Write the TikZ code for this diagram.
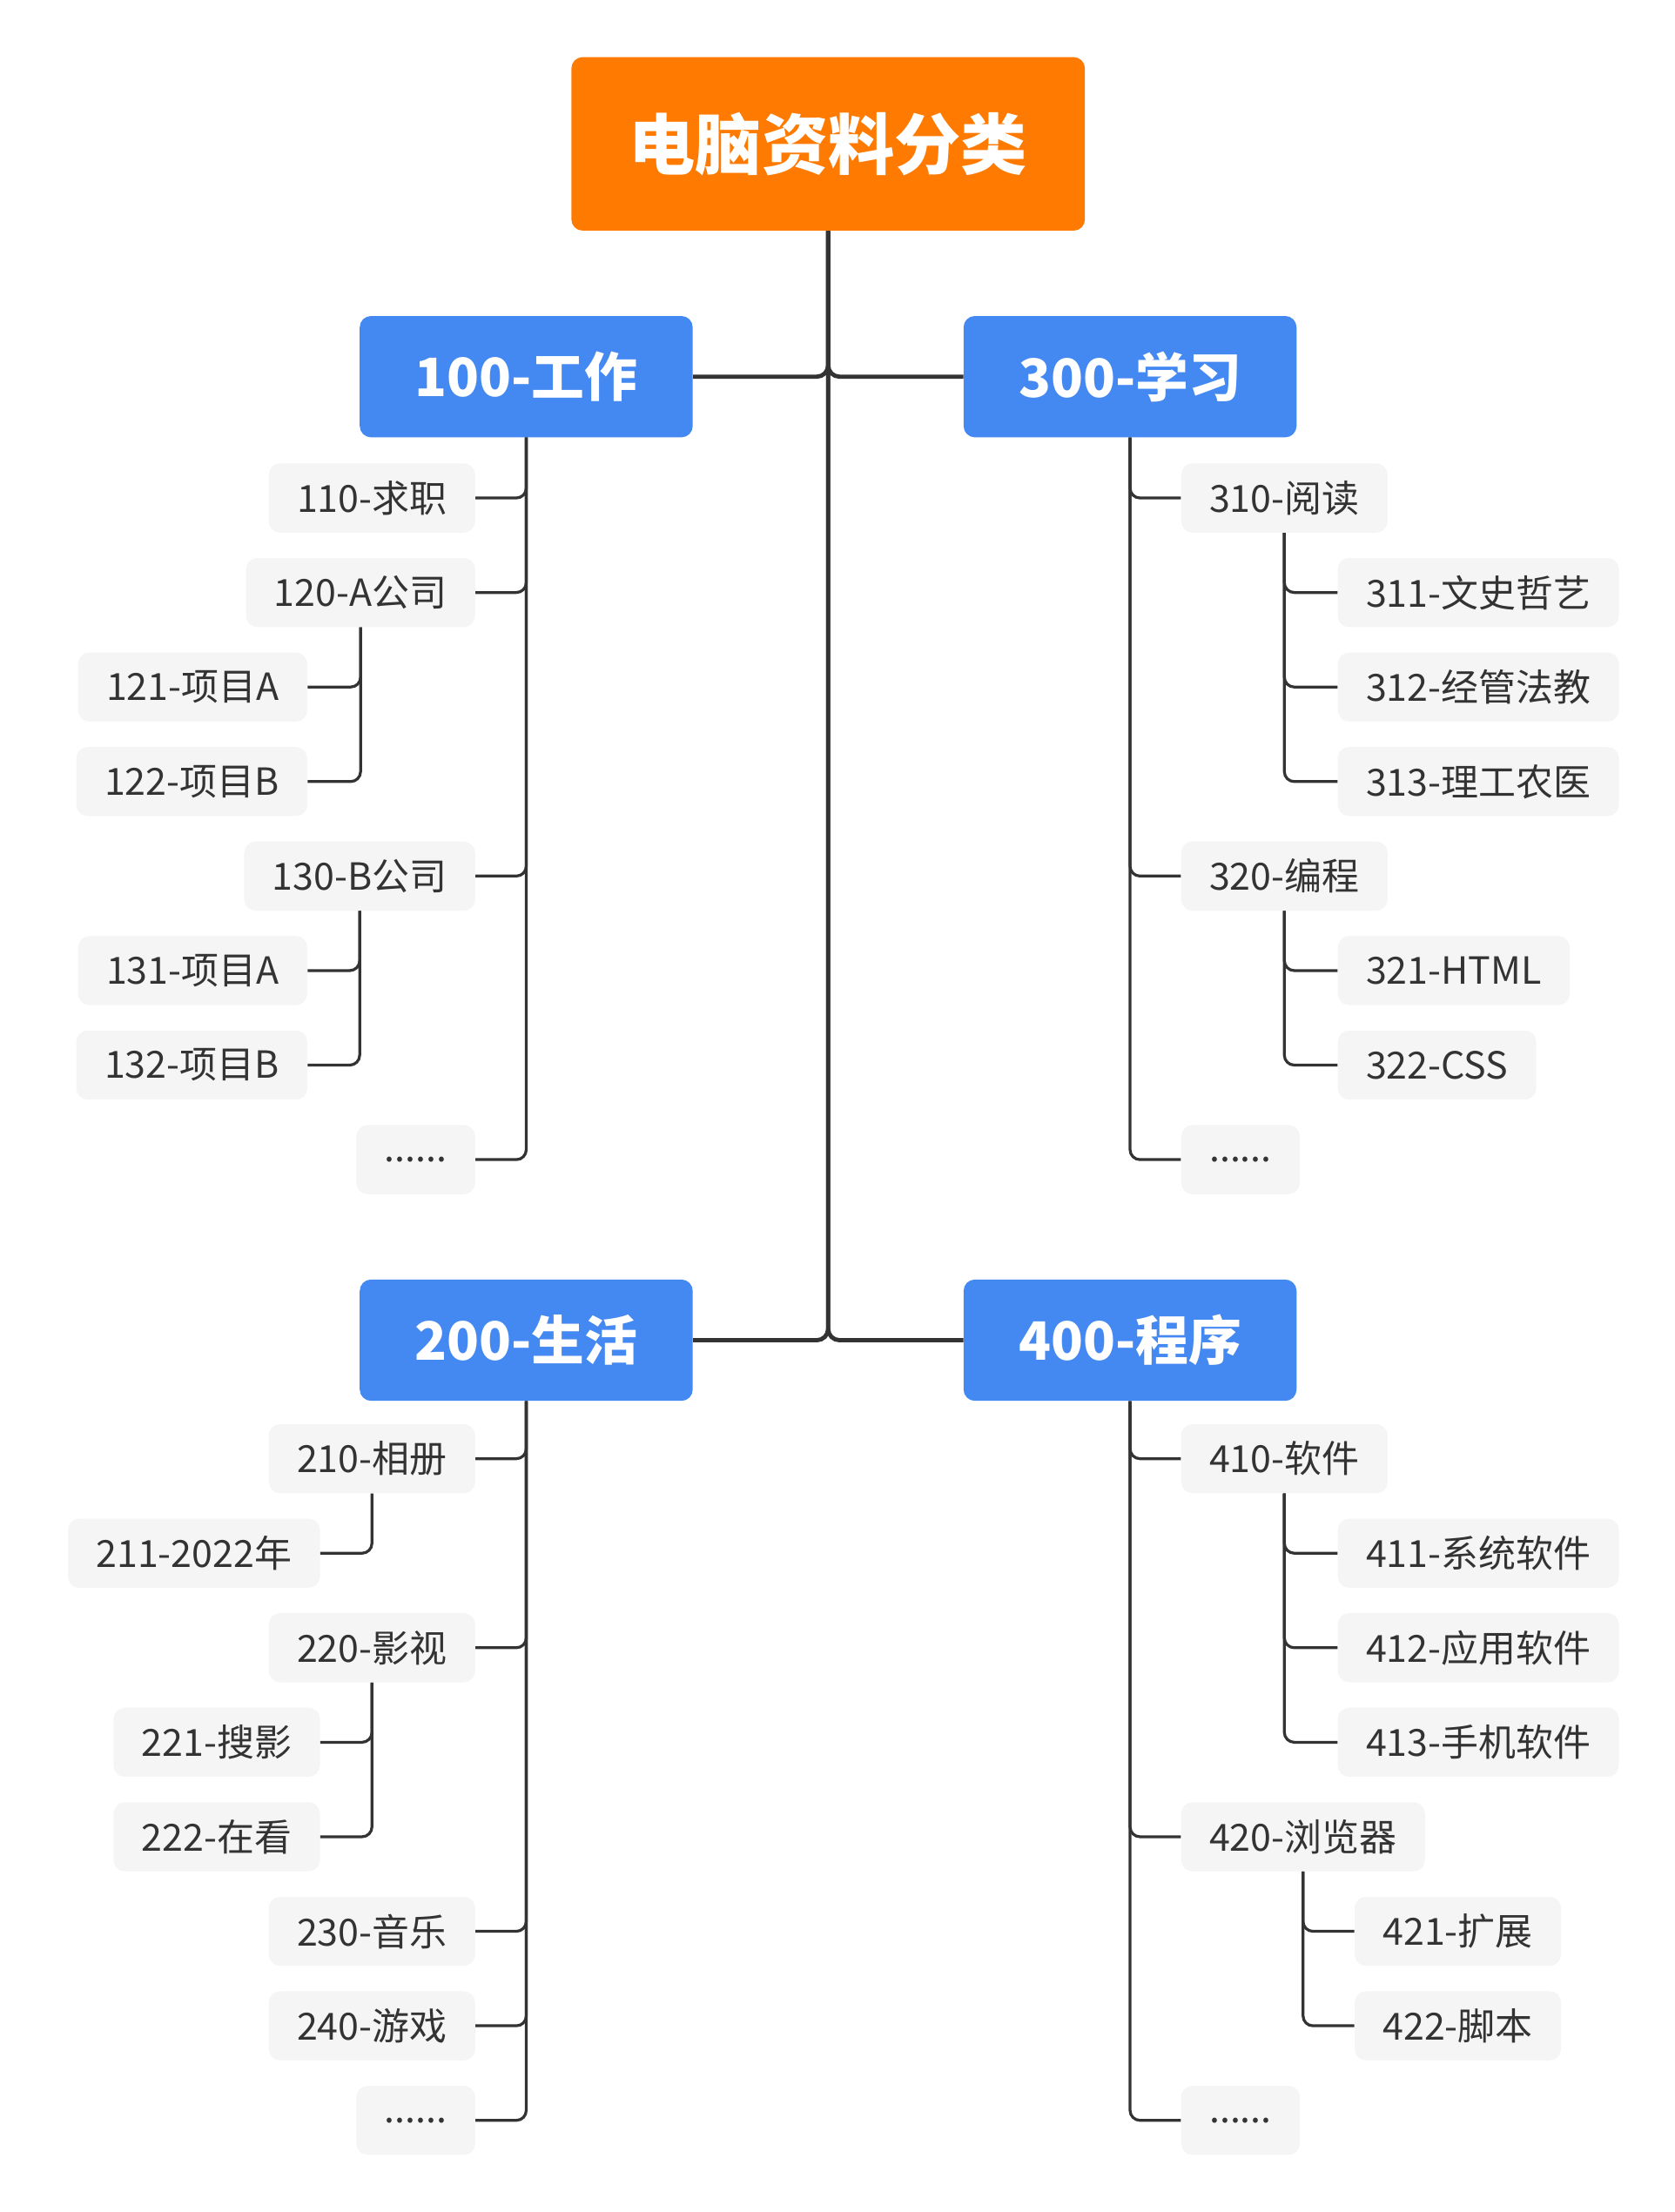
\documentclass[tikz,border=0pt]{standalone}
\usepackage{fontspec}
\setmainfont{Noto Sans CJK SC}
\usetikzlibrary{positioning}
\definecolor{rootOrange}{HTML}{FF7A00}
\definecolor{branchBlue}{HTML}{4488F2}
\definecolor{leafGray}{HTML}{F5F5F5}
\definecolor{lineGray}{HTML}{333333}

\begin{document}
\begin{tikzpicture}[
    x=1pt, y=-1pt,
    root/.style={rectangle, rounded corners=8pt, fill=rootOrange, text=white, minimum width=364pt, minimum height=123pt, font=\fontsize{47}{53}\selectfont\bfseries},
    branch/.style={rectangle, rounded corners=8pt, fill=branchBlue, text=white, minimum width=236pt, minimum height=86pt, font=\fontsize{37.5}{44}\selectfont\bfseries},
    leaf/.style={rectangle, rounded corners=8pt, fill=leafGray, text=lineGray, minimum height=49pt, inner xsep=20pt, font=\fontsize{26.5}{32}\selectfont},
    more/.style={leaf, minimum width=83pt},
    trunk/.style={draw=lineGray, line width=3pt, rounded corners=8pt},
    twig/.style={draw=lineGray, line width=2pt, rounded corners=7pt}
]
    \useasboundingbox (0,0) rectangle (1187,1568);

    \node[root] (root) at (587,102) {电脑资料分类};
    \node[branch] (work) at (373,267) {100-工作};
    \node[branch] (study) at (801,267) {300-学习};
    \node[branch] (life) at (373,950) {200-生活};
    \node[branch] (code) at (801,950) {400-程序};

    \node[leaf, anchor=east] (n110) at (337,353) {110-求职};
    \node[leaf, anchor=east] (n120) at (337,420) {120-A公司};
    \node[leaf, anchor=east] (n121) at (218,487) {121-项目A};
    \node[leaf, anchor=east] (n122) at (218,554) {122-项目B};
    \node[leaf, anchor=east] (n130) at (337,621) {130-B公司};
    \node[leaf, anchor=east] (n131) at (218,688) {131-项目A};
    \node[leaf, anchor=east] (n132) at (218,755) {132-项目B};
    \node[more, anchor=east] (n1x) at (337,822) {......};

    \node[leaf, anchor=west] (n310) at (837,353) {310-阅读};
    \node[leaf, anchor=west] (n311) at (948,420) {311-文史哲艺};
    \node[leaf, anchor=west] (n312) at (948,487) {312-经管法教};
    \node[leaf, anchor=west] (n313) at (948,554) {313-理工农医};
    \node[leaf, anchor=west] (n320) at (837,621) {320-编程};
    \node[leaf, anchor=west] (n321) at (948,688) {321-HTML};
    \node[leaf, anchor=west] (n322) at (948,755) {322-CSS};
    \node[more, anchor=west] (n3x) at (837,822) {......};

    \node[leaf, anchor=east] (n210) at (337,1034) {210-相册};
    \node[leaf, anchor=east] (n211) at (227,1101) {211-2022年};
    \node[leaf, anchor=east] (n220) at (337,1168) {220-影视};
    \node[leaf, anchor=east] (n221) at (227,1235) {221-搜影};
    \node[leaf, anchor=east] (n222) at (227,1302) {222-在看};
    \node[leaf, anchor=east] (n230) at (337,1369) {230-音乐};
    \node[leaf, anchor=east] (n240) at (337,1436) {240-游戏};
    \node[more, anchor=east] (n2x) at (337,1503) {......};

    \node[leaf, anchor=west] (n410) at (837,1034) {410-软件};
    \node[leaf, anchor=west] (n411) at (948,1101) {411-系统软件};
    \node[leaf, anchor=west] (n412) at (948,1168) {412-应用软件};
    \node[leaf, anchor=west] (n413) at (948,1235) {413-手机软件};
    \node[leaf, anchor=west] (n420) at (837,1302) {420-浏览器};
    \node[leaf, anchor=west] (n421) at (960,1369) {421-扩展};
    \node[leaf, anchor=west] (n422) at (960,1436) {422-脚本};
    \node[more, anchor=west] (n4x) at (837,1503) {......};

    \draw[trunk] (root.south) |- (work.east);
    \draw[trunk] (root.south) |- (study.west);
    \draw[trunk] (root.south) |- (life.east);
    \draw[trunk] (root.south) |- (code.west);

    \draw[twig] (work.south) |- (n110.east);
    \draw[twig] (work.south) |- (n120.east);
    \draw[twig] (work.south) |- (n130.east);
    \draw[twig] (work.south) |- (n1x.east);
    \draw[twig] (n120.south) |- (n121.east);
    \draw[twig] (n120.south) |- (n122.east);
    \draw[twig] (n130.south) |- (n131.east);
    \draw[twig] (n130.south) |- (n132.east);

    \draw[twig] (study.south) |- (n310.west);
    \draw[twig] (study.south) |- (n320.west);
    \draw[twig] (study.south) |- (n3x.west);
    \draw[twig] (n310.south) |- (n311.west);
    \draw[twig] (n310.south) |- (n312.west);
    \draw[twig] (n310.south) |- (n313.west);
    \draw[twig] (n320.south) |- (n321.west);
    \draw[twig] (n320.south) |- (n322.west);

    \draw[twig] (life.south) |- (n210.east);
    \draw[twig] (life.south) |- (n220.east);
    \draw[twig] (life.south) |- (n230.east);
    \draw[twig] (life.south) |- (n240.east);
    \draw[twig] (life.south) |- (n2x.east);
    \draw[twig] (n210.south) |- (n211.east);
    \draw[twig] (n220.south) |- (n221.east);
    \draw[twig] (n220.south) |- (n222.east);

    \draw[twig] (code.south) |- (n410.west);
    \draw[twig] (code.south) |- (n420.west);
    \draw[twig] (code.south) |- (n4x.west);
    \draw[twig] (n410.south) |- (n411.west);
    \draw[twig] (n410.south) |- (n412.west);
    \draw[twig] (n410.south) |- (n413.west);
    \draw[twig] (n420.south) |- (n421.west);
    \draw[twig] (n420.south) |- (n422.west);
\end{tikzpicture}
\end{document}
